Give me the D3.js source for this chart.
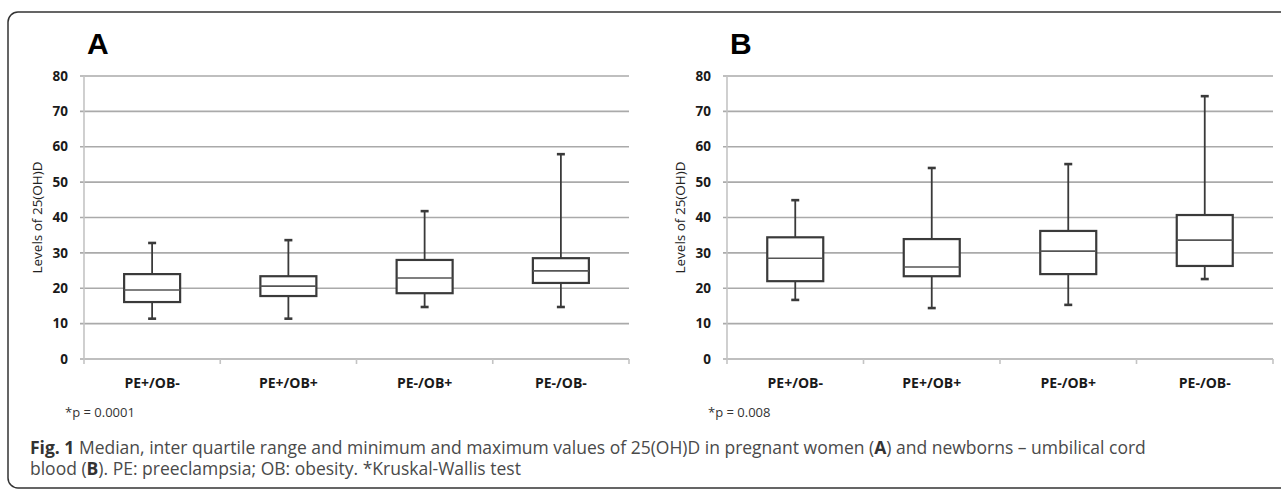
<!DOCTYPE html>
<html>
<head>
<meta charset="utf-8">
<script src="https://cdn.jsdelivr.net/npm/d3@7"></script>
<style>
  body { margin: 0; background: #fff; }
  text { font-family: "Open Sans", "Noto Sans", sans-serif; }
</style>
</head>
<body>
<svg id="chart" width="1281" height="491"></svg>
<script>
// categories and box values
var categories = ["PE+/OB-", "PE+/OB+", "PE-/OB+", "PE-/OB-"];
var yTicks = [0, 10, 20, 30, 40, 50, 60, 70, 80];

// panel A - pregnant women
var minA    = [11.4, 11.4, 14.7, 14.7];
var q1A     = [16.1, 17.8, 18.6, 21.5];
var medianA = [19.5, 20.6, 22.9, 24.9];
var q3A     = [24.0, 23.4, 28.0, 28.5];
var maxA    = [32.8, 33.6, 41.8, 57.9];

// panel B - umbilical cord blood
var minB    = [16.7, 14.4, 15.3, 22.6];
var q1B     = [22.0, 23.4, 24.0, 26.3];
var medianB = [28.5, 26.0, 30.5, 33.6];
var q3B     = [34.4, 33.9, 36.2, 40.7];
var maxB    = [44.9, 54.0, 55.1, 74.3];

var svg = d3.select("#chart");

// outer frame, runs off the right and bottom edge
svg.append("rect")
  .attr("x", 8).attr("y", 12)
  .attr("width", 1320).attr("height", 476)
  .attr("rx", 10)
  .style("fill", "none")
  .style("stroke", "#333")
  .style("stroke-width", 1.5);

var y = d3.scaleLinear().domain([0, 80]).range([359, 76]);

function panel(letter, pText, x0, x1, mins, q1s, meds, q3s, maxs) {
  var x = d3.scaleBand().domain(categories).range([x0, x1]);
  var g = svg.append("g");

  // gridlines + little ticks left of the axis
  g.selectAll(".grid")
    .data(yTicks)
    .enter().append("line")
    .attr("x1", x0 - 4).attr("x2", x1)
    .attr("y1", function(d) { return y(d); })
    .attr("y2", function(d) { return y(d); })
    .style("stroke", "#aaa")
    .style("stroke-width", 1.7);

  // y axis line
  g.append("line")
    .attr("x1", x0).attr("x2", x0)
    .attr("y1", y(80)).attr("y2", y(0) + 5)
    .style("stroke", "#c4c4c4")
    .style("stroke-width", 1.6);

  // x ticks at band edges
  var edges = categories.map(function(c) { return x(c) + x.bandwidth(); });
  g.selectAll(".xtick")
    .data(edges)
    .enter().append("line")
    .attr("x1", function(d) { return d; }).attr("x2", function(d) { return d; })
    .attr("y1", y(0)).attr("y2", y(0) + 5)
    .style("stroke", "#c4c4c4")
    .style("stroke-width", 1.6);

  // y tick labels
  g.selectAll(".ylab")
    .data(yTicks)
    .enter().append("text")
    .attr("x", x0 - 16)
    .attr("y", function(d) { return y(d); })
    .attr("dy", "0.35em")
    .attr("text-anchor", "end")
    .style("font-size", "13.5px")
    .style("font-weight", "bold")
    .style("fill", "#1a1a1a")
    .text(function(d) { return d; });

  // y title
  g.append("text")
    .attr("transform", "translate(" + (x0 - 42) + "," + ((y(0) + y(80)) / 2) + ") rotate(-90)")
    .attr("text-anchor", "middle")
    .style("font-size", "13.5px")
    .style("fill", "#222")
    .text("Levels of 25(OH)D");

  // x labels
  g.selectAll(".xlab")
    .data(categories)
    .enter().append("text")
    .attr("x", function(d) { return x(d) + x.bandwidth() / 2; })
    .attr("y", 388)
    .attr("text-anchor", "middle")
    .style("font-size", "14px")
    .style("font-weight", "bold")
    .style("fill", "#1a1a1a")
    .text(function(d) { return d; });

  // boxes
  var bw = 56;
  categories.forEach(function(c, i) {
    var cx = x(c) + x.bandwidth() / 2;
    var stroke = "#3a3a3a";
    // whiskers
    g.append("line")
      .attr("x1", cx).attr("x2", cx)
      .attr("y1", y(maxs[i])).attr("y2", y(q3s[i]))
      .style("stroke", stroke).style("stroke-width", 1.8);
    g.append("line")
      .attr("x1", cx).attr("x2", cx)
      .attr("y1", y(q1s[i])).attr("y2", y(mins[i]))
      .style("stroke", stroke).style("stroke-width", 1.8);
    // caps
    [mins[i], maxs[i]].forEach(function(v) {
      g.append("line")
        .attr("x1", cx - 4).attr("x2", cx + 4)
        .attr("y1", y(v)).attr("y2", y(v))
        .style("stroke", stroke).style("stroke-width", 2.6);
    });
    // box
    g.append("rect")
      .attr("x", cx - bw / 2)
      .attr("y", y(q3s[i]))
      .attr("width", bw)
      .attr("height", y(q1s[i]) - y(q3s[i]))
      .style("fill", "#fff")
      .style("stroke", stroke)
      .style("stroke-width", 2.2);
    // median
    g.append("line")
      .attr("x1", cx - bw / 2).attr("x2", cx + bw / 2)
      .attr("y1", y(meds[i])).attr("y2", y(meds[i]))
      .style("stroke", "#555").style("stroke-width", 1.6);
  });

  // panel letter
  g.append("text")
    .attr("x", x0 + 3)
    .attr("y", 54)
    .style("font-family", "'Liberation Sans', Arial, sans-serif")
    .style("font-size", "30px")
    .style("font-weight", "bold")
    .style("fill", "#000")
    .text(letter);

  // p value
  g.append("text")
    .attr("x", x0 - 19)
    .attr("y", 417)
    .style("font-size", "13px")
    .style("fill", "#333")
    .text(pText);
}

panel("A", "*p = 0.0001", 84, 629, minA, q1A, medianA, q3A, maxA);
panel("B", "*p = 0.008", 727, 1273, minB, q1B, medianB, q3B, maxB);

// caption
var cap = svg.append("g").style("font-size", "17.5px").style("fill", "#4a4a4a");
var l1 = cap.append("text").attr("x", 30).attr("y", 454);
l1.append("tspan").style("font-weight", "bold").style("fill", "#333").text("Fig. 1");
l1.append("tspan").text(" Median, inter quartile range and minimum and maximum values of 25(OH)D in pregnant women (");
l1.append("tspan").style("font-weight", "bold").style("fill", "#333").text("A");
l1.append("tspan").text(") and newborns \u2013 umbilical cord");
var l2 = cap.append("text").attr("x", 30).attr("y", 475);
l2.append("tspan").text("blood (");
l2.append("tspan").style("font-weight", "bold").style("fill", "#333").text("B");
l2.append("tspan").text("). PE: preeclampsia; OB: obesity. *Kruskal-Wallis test");
</script>
</body>
</html>
